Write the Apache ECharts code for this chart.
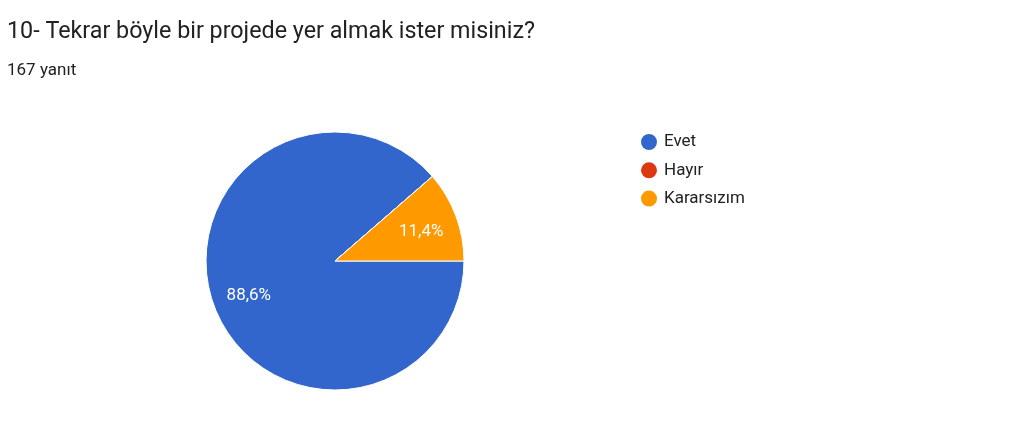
<!DOCTYPE html>
<html>
<head>
<meta charset="utf-8">
<script src="https://cdn.jsdelivr.net/npm/echarts@6/dist/echarts.min.js"></script>
<style>
  html, body { margin: 0; padding: 0; background: #fff; }
  #main { width: 1024px; height: 426px; }
</style>
</head>
<body>
<div id="main"></div>
<script>
// veriler
var answers = ['Evet', 'Hayır', 'Kararsızım'];
var counts = [148, 0, 19];
var colors = ['#3366cc', '#dc3912', '#ff9900'];

var pieData = [];
for (var i = 0; i < answers.length; i++) {
  pieData.push({ name: answers[i], value: counts[i] });
}

var center = [335, 261];

var myChart = echarts.init(document.getElementById('main'));
var option = {
  animation: false,
  color: colors,
  title: [{
    text: '10- Tekrar böyle bir projede yer almak ister misiniz?',
    left: 7,
    top: 21,
    padding: 0,
    textStyle: { fontFamily: 'Roboto', fontSize: 23.3, fontWeight: 'normal', color: '#202124' }
  }, {
    text: '167 yanıt',
    left: 7,
    top: 62,
    padding: 0,
    textStyle: { fontFamily: 'Roboto', fontSize: 17, fontWeight: 'normal', color: '#202124' }
  }],
  legend: {
    orient: 'vertical',
    left: 639,
    top: 132,
    padding: 0,
    icon: 'circle',
    itemWidth: 18,
    itemHeight: 18,
    itemGap: 8.3,
    data: answers,
    textStyle: { fontFamily: 'Roboto', fontSize: 17, color: '#222222', padding: [0, 0, 0, 1] }
  },
  series: [{
    // dilimler
    type: 'pie',
    center: center,
    radius: 129,
    startAngle: 0,
    clockwise: true,
    label: { show: false },
    labelLine: { show: false },
    itemStyle: { borderColor: '#ffffff', borderWidth: 1 },
    data: pieData
  }, {
    // yüzde etiketleri (şeffaf katman)
    type: 'pie',
    center: center,
    radius: [49, 129],
    startAngle: 0,
    clockwise: true,
    silent: true,
    itemStyle: { color: 'rgba(0,0,0,0)' },
    label: {
      show: true,
      position: 'inside',
      offset: [0, 3],
      fontFamily: 'Roboto',
      fontSize: 17,
      color: '#ffffff',
      formatter: function(p) {
        if (!p.value) return '';
        return p.percent.toFixed(1).replace('.', ',') + '%';
      }
    },
    labelLine: { show: false },
    data: pieData
  }]
};
myChart.setOption(option);
</script>
</body>
</html>
